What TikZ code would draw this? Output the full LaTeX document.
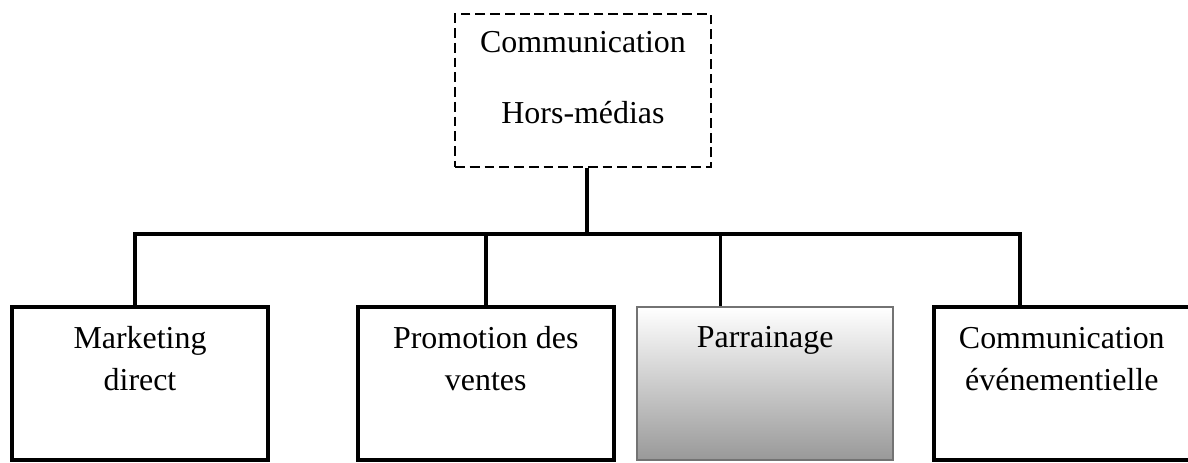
\documentclass[tikz,border=0pt]{standalone}
\usepackage{fontspec}
\setmainfont{Liberation Serif}
\usepackage{tikz}
\usetikzlibrary{positioning}

\begin{document}
\begin{tikzpicture}[
    x=0.025cm, y=-0.025cm,
    block/.style={rectangle, draw, line width=2.6pt, minimum width=6.4cm, inner xsep=0pt, inner ysep=0pt,
        align=center, text height=2.08cm, text depth=1.745cm, font=\fontsize{22.7pt}{29.9pt}\selectfont},
    dashblock/.style={block, line width=1.6pt, dash pattern=on 7pt off 3.5pt, text height=2.725cm, text depth=1.1cm,
        font=\fontsize{22.7pt}{49.8pt}\selectfont},
    shaded/.style={block, draw=black!55, line width=1.6pt, top color=white, bottom color=black!40,
        text height=1.0cm, text depth=2.825cm},
    link/.style={line width=2.6pt}
]
    \useasboundingbox (0,0) rectangle (1188,462);
    \node[dashblock] (hm) at (583,90.5) {Communication\\Hors-médias};
    \node[block] (md) at (140,383.5) {Marketing\\direct};
    \node[block, right=2.15cm of md] (pv) {Promotion des\\ventes};
    \node[shaded, right=0.51cm of pv] (pa) {Parrainage};
    \node[block, right=0.94cm of pa] (ce) {Communication\\événementielle};
    \coordinate (bus) at (0,234);
    \coordinate (hm-bot) at ([xshift=0.1cm]hm.south);
    \coordinate (md-top) at ([xshift=-0.125cm]md.north);
    \coordinate (pa-top) at ([xshift=-1.1125cm]pa.north);
    \coordinate (ce-top) at ([xshift=-1.05cm]ce.north);
    \draw[link] (hm-bot) -- (hm-bot |- bus);
    \draw[link] (md-top) |- (ce-top |- bus) -- (ce-top);
    \draw[link] (pv.north) -- (pv.north |- bus);
    \draw[link] (pa-top) -- (pa-top |- bus);
\end{tikzpicture}
\end{document}
